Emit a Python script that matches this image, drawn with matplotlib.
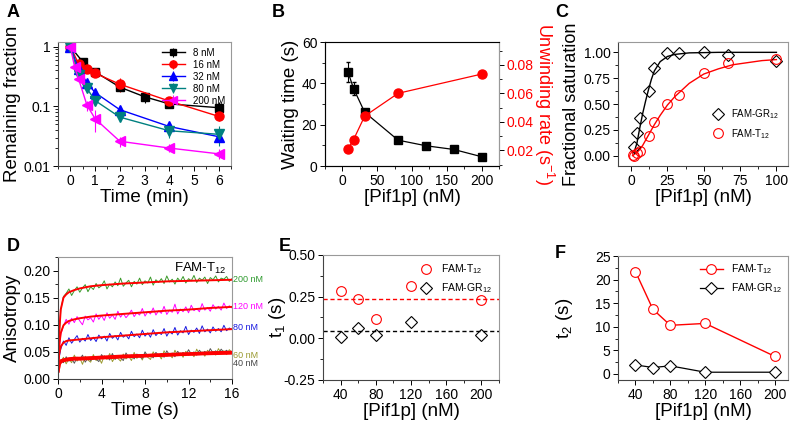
import numpy as np
import matplotlib
matplotlib.use('Agg')
import matplotlib.pyplot as plt
from matplotlib.ticker import MultipleLocator, FormatStrFormatter, FixedLocator, NullFormatter

plt.rcParams['font.family'] = ['Liberation Sans', 'DejaVu Sans']
plt.rcParams['mathtext.fontset'] = 'custom'
plt.rcParams['mathtext.rm'] = 'Liberation Sans'
plt.rcParams['mathtext.default'] = 'regular'

# ---- Panel A: remaining fraction vs time ----
a_series = ['8 nM', '16 nM', '32 nM', '80 nM', '200 nM']
a_t8 = [0, 0.5, 1, 2, 3, 4, 6]
a_y8 = [1.0, 0.56, 0.38, 0.21, 0.145, 0.11, 0.095]
a_e8 = [0.03, 0.04, 0.03, 0.03, 0.03, 0.012, 0.025]
a_t16 = [0, 0.33, 0.67, 1, 2, 4, 6]
a_y16 = [1.0, 0.52, 0.43, 0.36, 0.235, 0.123, 0.068]
a_e16 = [0.03, 0.04, 0.03, 0.03, 0.06, 0.015, 0.012]
a_t32 = [0, 0.33, 0.67, 1, 2, 4, 6]
a_y32 = [1.0, 0.42, 0.25, 0.17, 0.088, 0.046, 0.031]
a_e32 = [0.03, 0.04, 0.03, 0.02, 0.01, 0.006, 0.004]
a_t80 = [0, 0.33, 0.67, 1, 2, 4, 6]
a_y80 = [1.0, 0.34, 0.20, 0.125, 0.066, 0.039, 0.034]
a_e80 = [0.03, 0.03, 0.02, 0.015, 0.01, 0.01, 0.012]
a_t200 = [0, 0.17, 0.33, 0.67, 1, 2, 4, 6]
a_y200 = [1.0, 0.46, 0.29, 0.105, 0.062, 0.026, 0.020, 0.016]
a_e200 = [0.03, 0.05, 0.03, 0.02, 0.025, 0.005, 0.003, 0.003]

# ---- Panel B: waiting time and unwinding rate ----
b_conc_wait = [8, 16, 32, 80, 120, 160, 200]
b_wait = [45.5, 37.5, 26, 12.5, 9.8, 8, 4.5]
b_wait_err = [5, 3, 1.5, 0.5, 0.5, 0.5, 0.5]
b_conc_rate = [8, 16, 32, 80, 200]
b_rate = [0.021, 0.0275, 0.044, 0.060, 0.0735]

# ---- Panel C: fractional saturation ----
c_conc_gr = [2, 4, 6, 12, 16, 25, 33, 50, 67, 100]
c_sat_gr = [0.08, 0.22, 0.36, 0.63, 0.85, 0.99, 0.99, 1.0, 0.97, 0.92]
c_conc_t = [1, 2, 4, 6, 12, 16, 25, 33, 50, 67, 100]
c_sat_t = [0.01, 0.0, 0.03, 0.05, 0.19, 0.33, 0.50, 0.59, 0.80, 0.90, 0.94]
c_fit_gr_x = [2, 4, 6, 8, 10, 12, 14, 16, 20, 25, 30, 40, 60, 100]
c_fit_gr_y = [0.03, 0.12, 0.27, 0.41, 0.53, 0.64, 0.74, 0.82, 0.91, 0.96, 0.98, 0.995, 1.0, 1.0]
c_fit_t_x = [1, 4, 6, 8, 10, 12, 16, 20, 25, 30, 40, 50, 60, 70, 80, 90, 100]
c_fit_t_y = [0.0, 0.03, 0.06, 0.10, 0.15, 0.20, 0.30, 0.39, 0.49, 0.57, 0.70, 0.79, 0.84, 0.88, 0.90, 0.92, 0.93]

# ---- Panel D: anisotropy traces (FAM-T12) ----
d_labels = ['200 nM', '120 nM', '80 nM', '60 nM', '40 nM']
d_200 = [0.030, 0.128, 0.152, 0.158, 0.166, 0.154, 0.163, 0.170, 0.160, 0.168, 0.174, 0.161, 0.170,
         0.165, 0.176, 0.168, 0.172, 0.181, 0.166, 0.175, 0.170, 0.179, 0.172, 0.186, 0.171, 0.177,
         0.182, 0.170, 0.180, 0.175, 0.186, 0.174, 0.181, 0.177, 0.188, 0.173, 0.183, 0.178, 0.185,
         0.176, 0.190, 0.179, 0.184, 0.175, 0.186, 0.180, 0.189, 0.177, 0.185, 0.181, 0.191, 0.178,
         0.186, 0.182, 0.188, 0.176, 0.187, 0.183, 0.190, 0.179, 0.186, 0.184, 0.189, 0.180, 0.185]
d_120 = [0.030, 0.082, 0.098, 0.110, 0.101, 0.112, 0.104, 0.115, 0.107, 0.100, 0.116, 0.109, 0.113,
         0.105, 0.120, 0.110, 0.117, 0.108, 0.122, 0.112, 0.118, 0.110, 0.125, 0.114, 0.121, 0.113,
         0.119, 0.127, 0.115, 0.122, 0.118, 0.130, 0.116, 0.124, 0.120, 0.131, 0.118, 0.126, 0.121,
         0.134, 0.119, 0.127, 0.123, 0.138, 0.120, 0.129, 0.124, 0.133, 0.122, 0.136, 0.126, 0.130,
         0.124, 0.139, 0.127, 0.132, 0.125, 0.137, 0.129, 0.134, 0.127, 0.140, 0.130, 0.135, 0.131]
d_80 = [0.028, 0.055, 0.070, 0.062, 0.076, 0.066, 0.073, 0.080, 0.068, 0.075, 0.070, 0.082, 0.071,
        0.077, 0.069, 0.081, 0.074, 0.079, 0.070, 0.084, 0.075, 0.080, 0.072, 0.086, 0.077, 0.081,
        0.074, 0.088, 0.078, 0.083, 0.076, 0.090, 0.079, 0.085, 0.077, 0.091, 0.080, 0.086, 0.082,
        0.093, 0.079, 0.088, 0.083, 0.095, 0.081, 0.089, 0.085, 0.097, 0.082, 0.090, 0.086, 0.094,
        0.084, 0.098, 0.087, 0.092, 0.085, 0.096, 0.088, 0.093, 0.087, 0.099, 0.089, 0.094, 0.091]
d_60 = [0.020, 0.032, 0.040, 0.028, 0.037, 0.030, 0.044, 0.033, 0.039, 0.027, 0.042, 0.035, 0.031,
        0.045, 0.034, 0.040, 0.029, 0.043, 0.036, 0.047, 0.032, 0.041, 0.038, 0.033, 0.046, 0.037,
        0.042, 0.034, 0.049, 0.038, 0.044, 0.035, 0.047, 0.040, 0.036, 0.050, 0.041, 0.045, 0.037,
        0.052, 0.042, 0.046, 0.039, 0.053, 0.043, 0.048, 0.040, 0.051, 0.044, 0.049, 0.041, 0.055,
        0.045, 0.050, 0.042, 0.053, 0.046, 0.051, 0.044, 0.056, 0.047, 0.052, 0.045, 0.054, 0.049]
d_40 = [0.025, 0.035, 0.030, 0.041, 0.033, 0.038, 0.029, 0.040, 0.036, 0.044, 0.031, 0.039, 0.034,
        0.042, 0.037, 0.032, 0.045, 0.038, 0.041, 0.035, 0.047, 0.036, 0.043, 0.039, 0.034, 0.048,
        0.040, 0.044, 0.037, 0.046, 0.041, 0.038, 0.050, 0.042, 0.045, 0.039, 0.049, 0.043, 0.047,
        0.040, 0.052, 0.044, 0.048, 0.041, 0.051, 0.045, 0.049, 0.043, 0.054, 0.046, 0.050, 0.044,
        0.053, 0.047, 0.051, 0.045, 0.056, 0.048, 0.052, 0.046, 0.055, 0.049, 0.053, 0.047, 0.051]
d_fit_t = [0, 0.1, 0.25, 0.5, 0.75, 1, 1.5, 2, 3, 4, 6, 8, 10, 12, 14, 16]
d_fit_200 = [0.02, 0.085, 0.128, 0.150, 0.156, 0.160, 0.164, 0.167, 0.171, 0.173, 0.176, 0.178, 0.180, 0.181, 0.182, 0.183]
d_fit_120 = [0.02, 0.06, 0.085, 0.099, 0.104, 0.107, 0.110, 0.112, 0.115, 0.117, 0.120, 0.123, 0.126, 0.128, 0.131, 0.133]
d_fit_80 = [0.02, 0.045, 0.060, 0.067, 0.070, 0.071, 0.072, 0.073, 0.075, 0.077, 0.080, 0.083, 0.086, 0.088, 0.090, 0.092]
d_fit_60 = [0.015, 0.028, 0.033, 0.035, 0.036, 0.037, 0.038, 0.038, 0.039, 0.040, 0.042, 0.043, 0.045, 0.046, 0.048, 0.049]
d_fit_40 = [0.015, 0.027, 0.032, 0.034, 0.035, 0.036, 0.037, 0.037, 0.038, 0.039, 0.041, 0.043, 0.044, 0.046, 0.047, 0.048]
d_label_y = [0.183, 0.133, 0.095, 0.044, 0.029]

# ---- Panels E, F: fitted time constants ----
ef_conc = [40, 60, 80, 120, 200]
e_t1_T = [0.284, 0.238, 0.117, 0.312, 0.228]
e_t1_GR = [0.01, 0.06, 0.02, 0.10, 0.022]
e_mean_T = 0.236
e_mean_GR = 0.046
f_t2_T = [21.7, 13.7, 10.3, 10.7, 3.7]
f_t2_GR = [1.9, 1.35, 1.7, 0.35, 0.35]

RED = '#ff0000'
TICK = 10
LAB = 13.5


def style(ax):
    ax.spines['left'].set_color('#444444')
    ax.spines['bottom'].set_color('#444444')
    ax.spines['top'].set_color('#999999')
    ax.spines['right'].set_color('#999999')
    for s in ax.spines.values():
        s.set_linewidth(0.8)
    ax.tick_params(which='major', direction='out', length=3.5, width=0.7, labelsize=TICK, pad=2,
                   top=False, right=False)
    ax.tick_params(which='minor', direction='out', length=2, width=0.6, top=False, right=False)


fig = plt.figure(figsize=(7.96, 4.21), dpi=100)

# A
axA = fig.add_axes([0.0729, 0.6057, 0.2173, 0.2945])
specs = [(a_t8, a_y8, a_e8, 'k', 's', 5.5),
         (a_t16, a_y16, a_e16, RED, 'o', 6.5),
         (a_t32, a_y32, a_e32, '#0000ff', '^', 6.5),
         (a_t80, a_y80, a_e80, '#008080', 'v', 6.5),
         (a_t200, a_y200, a_e200, '#ff00ff', '<', 6.5)]
for (t, y, e, c, m, ms), lab in zip(specs, a_series):
    axA.errorbar(t, y, yerr=e, color=c, marker=m, ms=ms, lw=1, elinewidth=0.8, capsize=0, label=lab)
axA.set_yscale('log')
axA.set_ylim(0.01, 1.2)
axA.set_xlim(-0.5, 6.5)
axA.xaxis.set_major_locator(MultipleLocator(1))
axA.xaxis.set_minor_locator(MultipleLocator(0.5))
axA.yaxis.set_major_locator(FixedLocator([0.01, 0.1, 1]))
axA.yaxis.set_major_formatter(FormatStrFormatter('%g'))
axA.yaxis.set_minor_formatter(NullFormatter())
style(axA)
axA.set_xlabel('Time (min)', fontsize=LAB, labelpad=1)
axA.set_ylabel('Remaining fraction', fontsize=LAB, labelpad=2)
axA.legend(loc='upper right', fontsize=7, frameon=False, handlelength=2.4, markerscale=0.8,
           labelspacing=0.2, borderaxespad=0.2)

# B
axB = fig.add_axes([0.4083, 0.6057, 0.2186, 0.2945])
axB.errorbar(b_conc_wait, b_wait, yerr=b_wait_err, color='k', marker='s', ms=6, lw=0.9,
             elinewidth=0.8, capsize=1.5)
axB.set_xlim(-25, 225)
axB.set_ylim(0, 60)
axB.xaxis.set_major_locator(MultipleLocator(50))
axB.xaxis.set_minor_locator(MultipleLocator(25))
axB.yaxis.set_major_locator(MultipleLocator(20))
axB.yaxis.set_minor_locator(MultipleLocator(10))
style(axB)
axB.set_xlabel('[Pif1p] (nM)', fontsize=LAB, labelpad=1)
axB.set_ylabel('Waiting time (s)', fontsize=LAB, labelpad=2)
axB2 = axB.twinx()
axB2.plot(b_conc_rate, b_rate, color=RED, marker='o', ms=6.5, lw=0.9)
axB2.set_ylim(0.009, 0.096)
axB2.yaxis.set_major_locator(MultipleLocator(0.02))
axB2.yaxis.set_minor_locator(MultipleLocator(0.01))
axB2.yaxis.set_major_formatter(FormatStrFormatter('%.2f'))
axB2.tick_params(axis='y', which='major', direction='out', length=3.5, width=0.7,
                 labelsize=TICK, labelcolor=RED, pad=2)
axB2.tick_params(axis='y', which='minor', direction='out', length=2, width=0.6)
axB2.spines['right'].set_color('#999999')
axB2.set_ylabel('Unwinding rate (s$^{-1}$)', fontsize=13, color=RED, rotation=270, labelpad=16)

# C
axC = fig.add_axes([0.7764, 0.6057, 0.2136, 0.2945])
axC.plot(c_fit_gr_x, c_fit_gr_y, color='k', lw=1)
axC.plot(c_fit_t_x, c_fit_t_y, color=RED, lw=1)
axC.plot(c_conc_gr, c_sat_gr, ls='none', marker='D', ms=6, mfc='none', mec='k', mew=0.8,
         label='FAM-GR$_{12}$')
axC.plot(c_conc_t, c_sat_t, ls='none', marker='o', ms=7, mfc='none', mec=RED, mew=0.8,
         label='FAM-T$_{12}$')
axC.set_xlim(-9, 108)
axC.set_ylim(-0.1, 1.1)
axC.xaxis.set_major_locator(MultipleLocator(25))
axC.xaxis.set_minor_locator(MultipleLocator(12.5))
axC.yaxis.set_major_locator(MultipleLocator(0.25))
axC.yaxis.set_minor_locator(MultipleLocator(0.125))
axC.yaxis.set_major_formatter(FormatStrFormatter('%.2f'))
style(axC)
axC.set_xlabel('[Pif1p] (nM)', fontsize=LAB, labelpad=1)
axC.set_ylabel('Fractional saturation', fontsize=13, labelpad=2)
axC.legend(loc='center left', bbox_to_anchor=(0.5, 0.34), fontsize=7, frameon=False,
           handlelength=1.2, labelspacing=0.6)

# D
axD = fig.add_axes([0.0729, 0.0998, 0.2186, 0.2898])
trace_cols = ['#3a9a2a', '#ff00ff', '#1a1ae0', '#9a9a30', '#555555']
label_cols = ['#2e9a2e', '#ff00ff', '#1a1ae0', '#9a9a30', '#444444']
for vals, c in zip([d_200, d_120, d_80, d_60, d_40], trace_cols):
    axD.plot(np.linspace(0, 16, len(vals)), vals, color=c, lw=0.7)
for fit, lw in zip([d_fit_200, d_fit_120, d_fit_80, d_fit_60, d_fit_40], [1.4, 1.4, 1.4, 2.4, 2.4]):
    axD.plot(d_fit_t, fit, color=RED, lw=lw)
axD.set_xlim(0, 16)
axD.set_ylim(0, 0.225)
axD.xaxis.set_major_locator(MultipleLocator(4))
axD.xaxis.set_minor_locator(MultipleLocator(2))
axD.yaxis.set_major_locator(MultipleLocator(0.05))
axD.yaxis.set_minor_locator(MultipleLocator(0.025))
axD.yaxis.set_major_formatter(FormatStrFormatter('%.2f'))
style(axD)
axD.set_xlabel('Time (s)', fontsize=LAB, labelpad=1)
axD.set_ylabel('Anisotropy', fontsize=LAB, labelpad=2)
axD.text(10.7, 0.203, 'FAM-T$_{12}$', fontsize=9.5, va='center')
for lab, yv, c in zip(d_labels, d_label_y, label_cols):
    axD.text(16.1, yv, lab, fontsize=6.5, color=c, va='center', clip_on=False)

# E
axE = fig.add_axes([0.4058, 0.0974, 0.2211, 0.2969])
axE.axhline(e_mean_T, color=RED, ls='--', lw=1, dashes=(3, 2))
axE.axhline(e_mean_GR, color='k', ls='--', lw=1, dashes=(3, 2))
axE.plot(ef_conc, e_t1_T, ls='none', marker='o', ms=7, mfc='none', mec=RED, mew=0.8,
         label='FAM-T$_{12}$')
axE.plot(ef_conc, e_t1_GR, ls='none', marker='D', ms=6, mfc='none', mec='k', mew=0.8,
         label='FAM-GR$_{12}$')
axE.set_xlim(20, 220)
axE.set_ylim(-0.25, 0.5)
axE.xaxis.set_major_locator(MultipleLocator(40))
axE.xaxis.set_minor_locator(MultipleLocator(20))
axE.yaxis.set_major_locator(MultipleLocator(0.25))
axE.yaxis.set_minor_locator(MultipleLocator(0.125))
axE.yaxis.set_major_formatter(FormatStrFormatter('%.2f'))
style(axE)
axE.set_xlabel('[Pif1p] (nM)', fontsize=LAB, labelpad=1)
axE.set_ylabel('t$_1$ (s)', fontsize=LAB, labelpad=-3)
axE.legend(loc='upper right', fontsize=7.5, frameon=False, handlelength=1.2, labelspacing=0.5,
           borderaxespad=0.3)

# F
axF = fig.add_axes([0.7764, 0.0974, 0.2136, 0.2945])
axF.plot(ef_conc, f_t2_T, color=RED, lw=1, marker='o', ms=7, mfc='white', mec=RED, mew=0.8,
         label='FAM-T$_{12}$')
axF.plot(ef_conc, f_t2_GR, color='k', lw=0.9, marker='D', ms=6, mfc='white', mec='k', mew=0.8,
         label='FAM-GR$_{12}$')
axF.set_xlim(20, 215)
axF.set_ylim(-1.3, 25)
axF.xaxis.set_major_locator(MultipleLocator(40))
axF.xaxis.set_minor_locator(MultipleLocator(20))
axF.yaxis.set_major_locator(MultipleLocator(5))
axF.yaxis.set_minor_locator(MultipleLocator(2.5))
style(axF)
axF.set_xlabel('[Pif1p] (nM)', fontsize=LAB, labelpad=1)
axF.set_ylabel('t$_2$ (s)', fontsize=LAB, labelpad=14)
axF.legend(loc='upper right', fontsize=7.5, frameon=False, handlelength=2.2, labelspacing=0.5,
           borderaxespad=0.2)

# panel letters
for lab, x, y in [('A', 0.008, 0.99), ('B', 0.342, 0.99), ('C', 0.697, 0.99),
                  ('D', 0.008, 0.435), ('E', 0.350, 0.435), ('F', 0.697, 0.418)]:
    fig.text(x, y, lab, fontsize=13, fontweight='bold', va='top')

fig.savefig('out.png', dpi=100)
